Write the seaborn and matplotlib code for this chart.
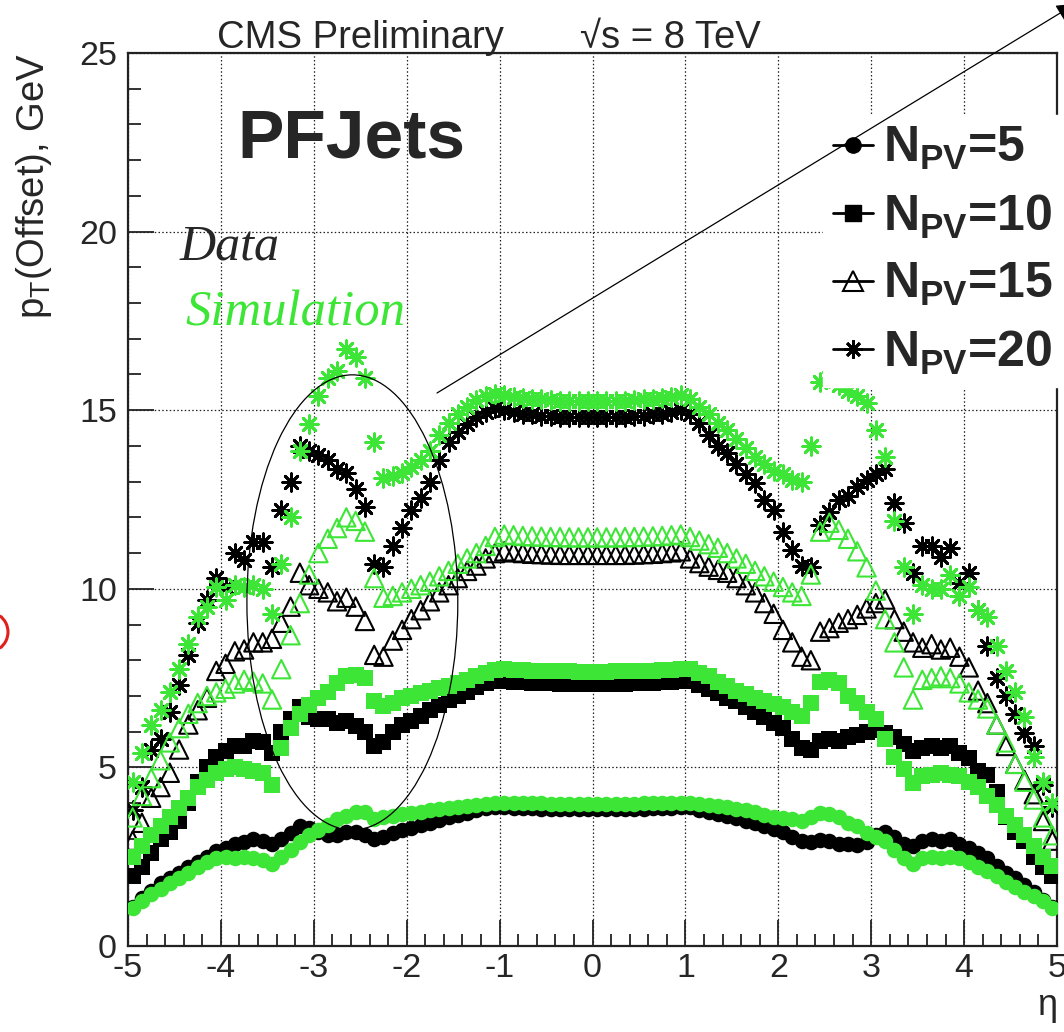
import matplotlib
matplotlib.use("Agg")
import numpy as np
import pandas as pd
import matplotlib.pyplot as plt
import seaborn as sns
from matplotlib.patches import Ellipse, Arc
from matplotlib.lines import Line2D
from matplotlib.ticker import MultipleLocator

# ---------------- data ----------------
ETA = [-4.95, -4.85, -4.75, -4.65, -4.55, -4.45, -4.35, -4.25, -4.15, -4.05,
       -3.95, -3.85, -3.75, -3.65, -3.55, -3.45, -3.35, -3.25, -3.15, -3.05,
       -2.95, -2.85, -2.75, -2.65, -2.55, -2.45, -2.35, -2.25, -2.15, -2.05,
       -1.95, -1.85, -1.75, -1.65, -1.55, -1.45, -1.35, -1.25, -1.15, -1.05,
       -0.95, -0.85, -0.75, -0.65, -0.55, -0.45, -0.35, -0.25, -0.15, -0.05,
       0.05, 0.15, 0.25, 0.35, 0.45, 0.55, 0.65, 0.75, 0.85, 0.95,
       1.05, 1.15, 1.25, 1.35, 1.45, 1.55, 1.65, 1.75, 1.85, 1.95,
       2.05, 2.15, 2.25, 2.35, 2.45, 2.55, 2.65, 2.75, 2.85, 2.95,
       3.05, 3.15, 3.25, 3.35, 3.45, 3.55, 3.65, 3.75, 3.85, 3.95,
       4.05, 4.15, 4.25, 4.35, 4.45, 4.55, 4.65, 4.75, 4.85, 4.95]

DATA_NPV5 = [1.10, 1.35, 1.55, 1.75, 1.90, 2.05, 2.20, 2.35, 2.50, 2.65,
             2.75, 2.85, 2.90, 3.00, 2.95, 2.85, 3.00, 3.15, 3.35, 3.30,
             3.20, 3.10, 3.10, 3.20, 3.20, 3.10, 3.00, 3.05, 3.15, 3.25,
             3.30, 3.38, 3.45, 3.52, 3.60, 3.67, 3.73, 3.80, 3.86, 3.90,
             3.88, 3.86, 3.85, 3.85, 3.84, 3.84, 3.83, 3.83, 3.83, 3.83,
             3.83, 3.83, 3.83, 3.83, 3.84, 3.84, 3.85, 3.85, 3.86, 3.88,
             3.88, 3.82, 3.76, 3.70, 3.63, 3.57, 3.50, 3.43, 3.35, 3.28,
             3.20, 3.05, 2.95, 2.92, 2.97, 2.95, 2.85, 2.85, 2.83, 2.90,
             3.10, 3.20, 3.05, 2.85, 2.80, 2.95, 3.00, 2.95, 3.00, 2.85,
             2.75, 2.60, 2.45, 2.25, 2.05, 1.90, 1.70, 1.50, 1.30, 1.10]
SIM_NPV5 = [1.05, 1.25, 1.45, 1.60, 1.75, 1.90, 2.05, 2.20, 2.35, 2.45,
            2.50, 2.45, 2.50, 2.45, 2.40, 2.30, 2.50, 2.70, 2.90, 3.10,
            3.25, 3.40, 3.55, 3.65, 3.75, 3.75, 3.55, 3.60, 3.65, 3.70,
            3.72, 3.76, 3.80, 3.84, 3.87, 3.90, 3.93, 3.96, 3.98, 4.00,
            4.00, 4.00, 3.99, 3.99, 3.99, 3.98, 3.98, 3.98, 3.98, 3.98,
            3.98, 3.98, 3.98, 3.98, 3.98, 3.99, 3.99, 3.99, 4.00, 4.00,
            4.00, 3.98, 3.95, 3.92, 3.88, 3.84, 3.80, 3.74, 3.68, 3.62,
            3.57, 3.55, 3.50, 3.60, 3.72, 3.70, 3.60, 3.45, 3.35, 3.15,
            3.05, 2.95, 2.70, 2.45, 2.30, 2.45, 2.50, 2.45, 2.50, 2.45,
            2.35, 2.20, 2.10, 1.95, 1.80, 1.65, 1.50, 1.40, 1.25, 1.05]
DATA_NPV10 = [1.95, 2.20, 2.60, 3.00, 3.20, 3.50, 4.00, 4.60, 5.00, 5.30,
              5.45, 5.60, 5.60, 5.75, 5.70, 5.40, 6.00, 6.35, 6.70, 6.40,
              6.35, 6.35, 6.25, 6.30, 6.15, 6.00, 5.60, 5.70, 6.00, 6.20,
              6.30, 6.45, 6.60, 6.75, 6.88, 7.00, 7.12, 7.25, 7.35, 7.42,
              7.42, 7.40, 7.38, 7.36, 7.35, 7.35, 7.34, 7.34, 7.33, 7.33,
              7.33, 7.33, 7.34, 7.34, 7.35, 7.35, 7.36, 7.38, 7.40, 7.42,
              7.42, 7.30, 7.20, 7.08, 6.95, 6.85, 6.70, 6.55, 6.40, 6.25,
              6.10, 5.80, 5.55, 5.50, 5.75, 5.80, 5.75, 5.85, 5.90, 6.00,
              6.05, 5.95, 5.85, 5.65, 5.45, 5.55, 5.60, 5.55, 5.60, 5.40,
              5.25, 4.90, 4.80, 4.30, 3.60, 3.20, 2.95, 2.50, 2.20, 1.95]
SIM_NPV10 = [2.50, 2.80, 3.10, 3.35, 3.60, 3.85, 4.15, 4.45, 4.65, 4.85,
             4.95, 5.00, 4.95, 4.90, 4.85, 4.50, 5.55, 6.10, 6.50, 6.75,
             6.95, 7.10, 7.35, 7.55, 7.60, 7.50, 6.85, 6.72, 6.80, 6.95,
             7.00, 7.08, 7.15, 7.22, 7.28, 7.35, 7.45, 7.55, 7.65, 7.72,
             7.75, 7.73, 7.72, 7.71, 7.70, 7.70, 7.69, 7.69, 7.68, 7.68,
             7.68, 7.68, 7.69, 7.69, 7.70, 7.70, 7.71, 7.72, 7.73, 7.75,
             7.75, 7.65, 7.55, 7.40, 7.28, 7.15, 7.05, 6.95, 6.85, 6.78,
             6.70, 6.55, 6.45, 6.80, 7.40, 7.45, 7.35, 7.00, 6.80, 6.55,
             6.35, 5.80, 5.30, 4.95, 4.55, 4.75, 4.80, 4.85, 4.80, 4.75,
             4.60, 4.45, 4.20, 3.95, 3.65, 3.40, 3.10, 2.80, 2.50, 2.25]
DATA_NPV15 = [2.95, 3.45, 4.15, 4.45, 4.85, 5.50, 6.20, 6.60, 6.95, 7.70,
              7.90, 8.25, 8.30, 8.50, 8.50, 8.60, 9.05, 9.50, 10.45, 10.10,
              10.00, 9.90, 9.65, 9.75, 9.50, 9.10, 8.15, 8.10, 8.55, 8.85,
              9.15, 9.40, 9.65, 9.90, 10.10, 10.30, 10.50, 10.65, 10.85, 11.00,
              11.05, 11.02, 11.00, 10.98, 10.97, 10.96, 10.95, 10.95, 10.95, 10.95,
              10.95, 10.95, 10.95, 10.95, 10.96, 10.97, 10.98, 11.00, 11.02, 11.05,
              10.85, 10.72, 10.62, 10.53, 10.45, 10.30, 10.10, 9.90, 9.60, 9.30,
              8.85, 8.50, 8.10, 8.00, 8.80, 8.90, 9.05, 9.15, 9.27, 9.45,
              9.60, 9.70, 9.15, 8.80, 8.50, 8.35, 8.45, 8.30, 8.35, 8.10,
              7.80, 7.15, 6.80, 6.20, 5.60, 5.10, 4.65, 4.25, 3.50, 2.95]
SIM_NPV15 = [3.60, 4.20, 4.70, 5.20, 5.70, 6.10, 6.50, 6.80, 7.00, 7.10,
             7.20, 7.35, 7.45, 7.40, 7.35, 6.90, 7.75, 8.70, 9.60, 10.40,
             11.00, 11.40, 11.70, 12.00, 11.90, 11.60, 10.30, 9.75, 9.80, 9.90,
             10.00, 10.10, 10.20, 10.35, 10.50, 10.70, 10.85, 11.00, 11.20, 11.45,
             11.52, 11.50, 11.48, 11.47, 11.46, 11.45, 11.45, 11.44, 11.44, 11.44,
             11.44, 11.44, 11.44, 11.45, 11.45, 11.46, 11.47, 11.48, 11.50, 11.52,
             11.45, 11.35, 11.25, 11.15, 11.00, 10.85, 10.70, 10.50, 10.35, 10.20,
             10.05, 9.90, 9.80, 10.40, 11.60, 11.85, 11.65, 11.40, 11.05, 10.60,
             9.95, 9.15, 8.50, 7.80, 6.90, 7.45, 7.50, 7.55, 7.50, 7.35,
             7.10, 6.90, 6.65, 6.20, 5.70, 5.10, 4.60, 4.10, 3.60, 3.10]
DATA_NPV20 = [3.80, 4.45, 5.50, 5.80, 6.55, 7.30, 8.15, 9.05, 9.70, 10.30,
              10.05, 11.00, 10.80, 11.30, 11.30, 10.60, 12.20, 13.00, 14.00, 13.85,
              13.75, 13.60, 13.35, 13.25, 12.80, 12.30, 10.70, 10.60, 11.20, 11.70,
              12.20, 12.55, 13.00, 13.60, 14.10, 14.40, 14.60, 14.80, 14.95, 15.05,
              15.00, 14.95, 14.90, 14.88, 14.85, 14.83, 14.82, 14.80, 14.80, 14.80,
              14.80, 14.80, 14.80, 14.82, 14.83, 14.85, 14.88, 14.90, 14.95, 15.00,
              14.90, 14.65, 14.30, 14.00, 13.80, 13.50, 13.20, 12.95, 12.50, 12.20,
              11.60, 11.10, 10.65, 10.60, 11.80, 12.15, 12.50, 12.60, 12.85, 13.05,
              13.20, 13.35, 12.40, 11.85, 10.45, 11.20, 11.20, 10.90, 11.15, 10.15,
              10.45, 9.40, 8.40, 7.50, 7.00, 6.50, 5.95, 5.60, 4.50, 3.90]
SIM_NPV20 = [4.60, 5.40, 6.20, 6.60, 7.10, 7.75, 8.45, 9.20, 9.50, 10.05,
             9.70, 10.10, 10.05, 10.10, 10.00, 9.30, 10.70, 12.00, 13.85, 14.60,
             15.40, 15.90, 16.10, 16.70, 16.50, 15.90, 14.10, 13.10, 13.15, 13.25,
             13.40, 13.60, 13.85, 14.30, 14.65, 14.90, 15.10, 15.28, 15.40, 15.45,
             15.42, 15.38, 15.35, 15.32, 15.30, 15.28, 15.27, 15.26, 15.25, 15.25,
             15.25, 15.25, 15.26, 15.27, 15.28, 15.30, 15.32, 15.35, 15.38, 15.42,
             15.30, 15.10, 14.90, 14.65, 14.45, 14.20, 13.95, 13.70, 13.50, 13.30,
             13.20, 13.05, 13.00, 14.00, 15.80, 15.90, 15.70, 15.55, 15.40, 15.20,
             14.45, 13.70, 11.90, 10.60, 9.30, 10.10, 10.00, 10.00, 10.40, 9.80,
             10.05, 9.40, 9.20, 8.40, 7.70, 7.10, 6.40, 5.30, 4.60, 4.00]

NPV_LEVELS = [5, 10, 15, 20]
SOURCES = ["Data", "Simulation"]
SERIES = {
    ("Data", 5): DATA_NPV5, ("Data", 10): DATA_NPV10,
    ("Data", 15): DATA_NPV15, ("Data", 20): DATA_NPV20,
    ("Simulation", 5): SIM_NPV5, ("Simulation", 10): SIM_NPV10,
    ("Simulation", 15): SIM_NPV15, ("Simulation", 20): SIM_NPV20,
}
LEGEND_LABELS = [r"$\mathbf{N_{PV}}$=5", r"$\mathbf{N_{PV}}$=10",
                 r"$\mathbf{N_{PV}}$=15", r"$\mathbf{N_{PV}}$=20"]
X_TICKS = [-5, -4, -3, -2, -1, 0, 1, 2, 3, 4, 5]
Y_TICKS = [0, 5, 10, 15, 20, 25]

rows = []
for (src, npv), vals in SERIES.items():
    for e, v in zip(ETA, vals):
        rows.append({"eta": e, "pt": v, "npv": npv, "source": src})
df = pd.DataFrame(rows)

# ---------------- style ----------------
sns.set_style("ticks")
plt.rcParams["font.family"] = ["Liberation Sans", "DejaVu Sans"]
plt.rcParams["mathtext.fontset"] = "custom"
plt.rcParams["mathtext.rm"] = "Liberation Sans"
plt.rcParams["mathtext.it"] = "Liberation Sans:italic"
plt.rcParams["mathtext.bf"] = "Liberation Sans:bold"
plt.rcParams["axes.unicode_minus"] = False

GREEN = "#3de636"
COLORS = {"Data": "black", "Simulation": GREEN}
MARKERS = {5: "o", 10: "s", 15: "^", 20: (8, 2, 0)}
SIZES = {5: 125, 10: 135, 15: 175, 20: 160}

W, H = 1064, 1032
fig = plt.figure(figsize=(W / 100, H / 100), dpi=100)
ax = fig.add_axes([128 / W, 86 / H, 929 / W, 893 / H])

def fx(px):
    return px / W

def fy(py):
    return 1 - py / H

z = 3
for src in SOURCES:
    col = COLORS[src]
    for npv in NPV_LEVELS:
        sub = df[(df.source == src) & (df.npv == npv)]
        kw = dict(data=sub, x="eta", y="pt", ax=ax, marker=MARKERS[npv],
                  s=SIZES[npv], color=col, legend=False, zorder=z)
        if npv == 15:
            kw.update(facecolors="none", edgecolor=col, linewidth=1.5)
        elif npv == 20:
            kw.update(linewidth=2.0)
        else:
            kw.update(edgecolor=col, linewidth=0)
        sns.scatterplot(**kw)
        z += 0.1

ax.set_xlim(-5, 5)
ax.set_ylim(0, 25)
ax.set_xticks(X_TICKS)
ax.set_yticks(Y_TICKS)
ax.xaxis.set_minor_locator(MultipleLocator(0.2))
ax.yaxis.set_minor_locator(MultipleLocator(1))
ax.tick_params(which="both", direction="in", top=False, right=False,
               labelsize=24.5, width=1.3, color="#222222")
ax.tick_params(which="major", length=19)
ax.tick_params(which="minor", length=9)
ax.tick_params(axis="x", pad=5)
ax.tick_params(axis="y", pad=8)
for sp in ax.spines.values():
    sp.set_visible(True)
    sp.set_linewidth(1.6)
    sp.set_color("#222222")
ax.grid(True, which="major", color="#222222", linestyle=(0, (1.2, 1.8)), linewidth=0.9)
ax.set_axisbelow(True)

ax.set_xlabel("η", fontsize=26, loc="right")
ax.xaxis.set_label_coords(1.0, -(988 - 946) / 893)
ax.set_ylabel(r"p$_{\mathrm{T}}$(Offset), GeV", fontsize=27.5, loc="top")
ax.yaxis.set_label_coords((54 - 128) / 929, 1.0)

# legend
handles = []
for npv in NPV_LEVELS:
    if npv == 15:
        h = Line2D([0], [0], color="k", lw=2, marker="^", ms=14, mfc="none", mec="k", mew=1.5)
    elif npv == 20:
        h = Line2D([0], [0], color="k", lw=2, marker=(8, 2, 0), ms=13, mec="k", mew=2.0)
    else:
        h = Line2D([0], [0], color="k", lw=2, marker=MARKERS[npv], ms=11, mfc="k", mec="k")
    handles.append(h)
leg = ax.legend(handles, LEGEND_LABELS, loc="upper left",
                bbox_to_anchor=(fx(823), fy(115)), bbox_transform=fig.transFigure,
                prop={"size": 36, "weight": "bold"}, frameon=True, fancybox=False,
                facecolor="white", edgecolor="white", framealpha=1.0,
                borderpad=0.2, labelspacing=0.41, handlelength=0.8,
                handletextpad=0.2, borderaxespad=0)
leg.set_zorder(10)

# texts
fig.text(fx(217), fy(48), "CMS Preliminary", fontsize=27.5, va="baseline", ha="left")
fig.text(fx(580), fy(48), "√s = 8 TeV", fontsize=27.5, va="baseline", ha="left")
fig.text(fx(237), fy(157), "PFJets", fontsize=50, fontweight="bold", va="baseline", ha="left")
fig.text(fx(180), fy(259), "Data", fontsize=36, fontstyle="italic",
         family=["Liberation Serif", "DejaVu Serif"], va="baseline", ha="left")
fig.text(fx(185), fy(326), "Simulation", fontsize=36.5, fontstyle="italic", color=GREEN,
         family=["Liberation Serif", "DejaVu Serif"], va="baseline", ha="left")

# annotation ellipse and pointer line
ax.add_patch(Ellipse((-2.585, 9.62), 2.27, 12.74, fill=False, edgecolor="black",
                     linewidth=0.9, zorder=8))
ax.annotate("", xy=(fx(1075), fy(4)), xycoords="figure fraction",
            xytext=(fx(437), fy(393)), textcoords="figure fraction",
            arrowprops=dict(arrowstyle="-|>", color="black", lw=0.9,
                            mutation_scale=28, shrinkA=0, shrinkB=0),
            annotation_clip=False, zorder=12)

# small red mark at the left edge of the slide
fig.add_artist(Arc((fx(-12), fy(632)), 40 / W, 40 / H, theta1=-55, theta2=55,
                   color="#e0201a", linewidth=2.2, transform=fig.transFigure))

fig.savefig("out.png", dpi=100)
